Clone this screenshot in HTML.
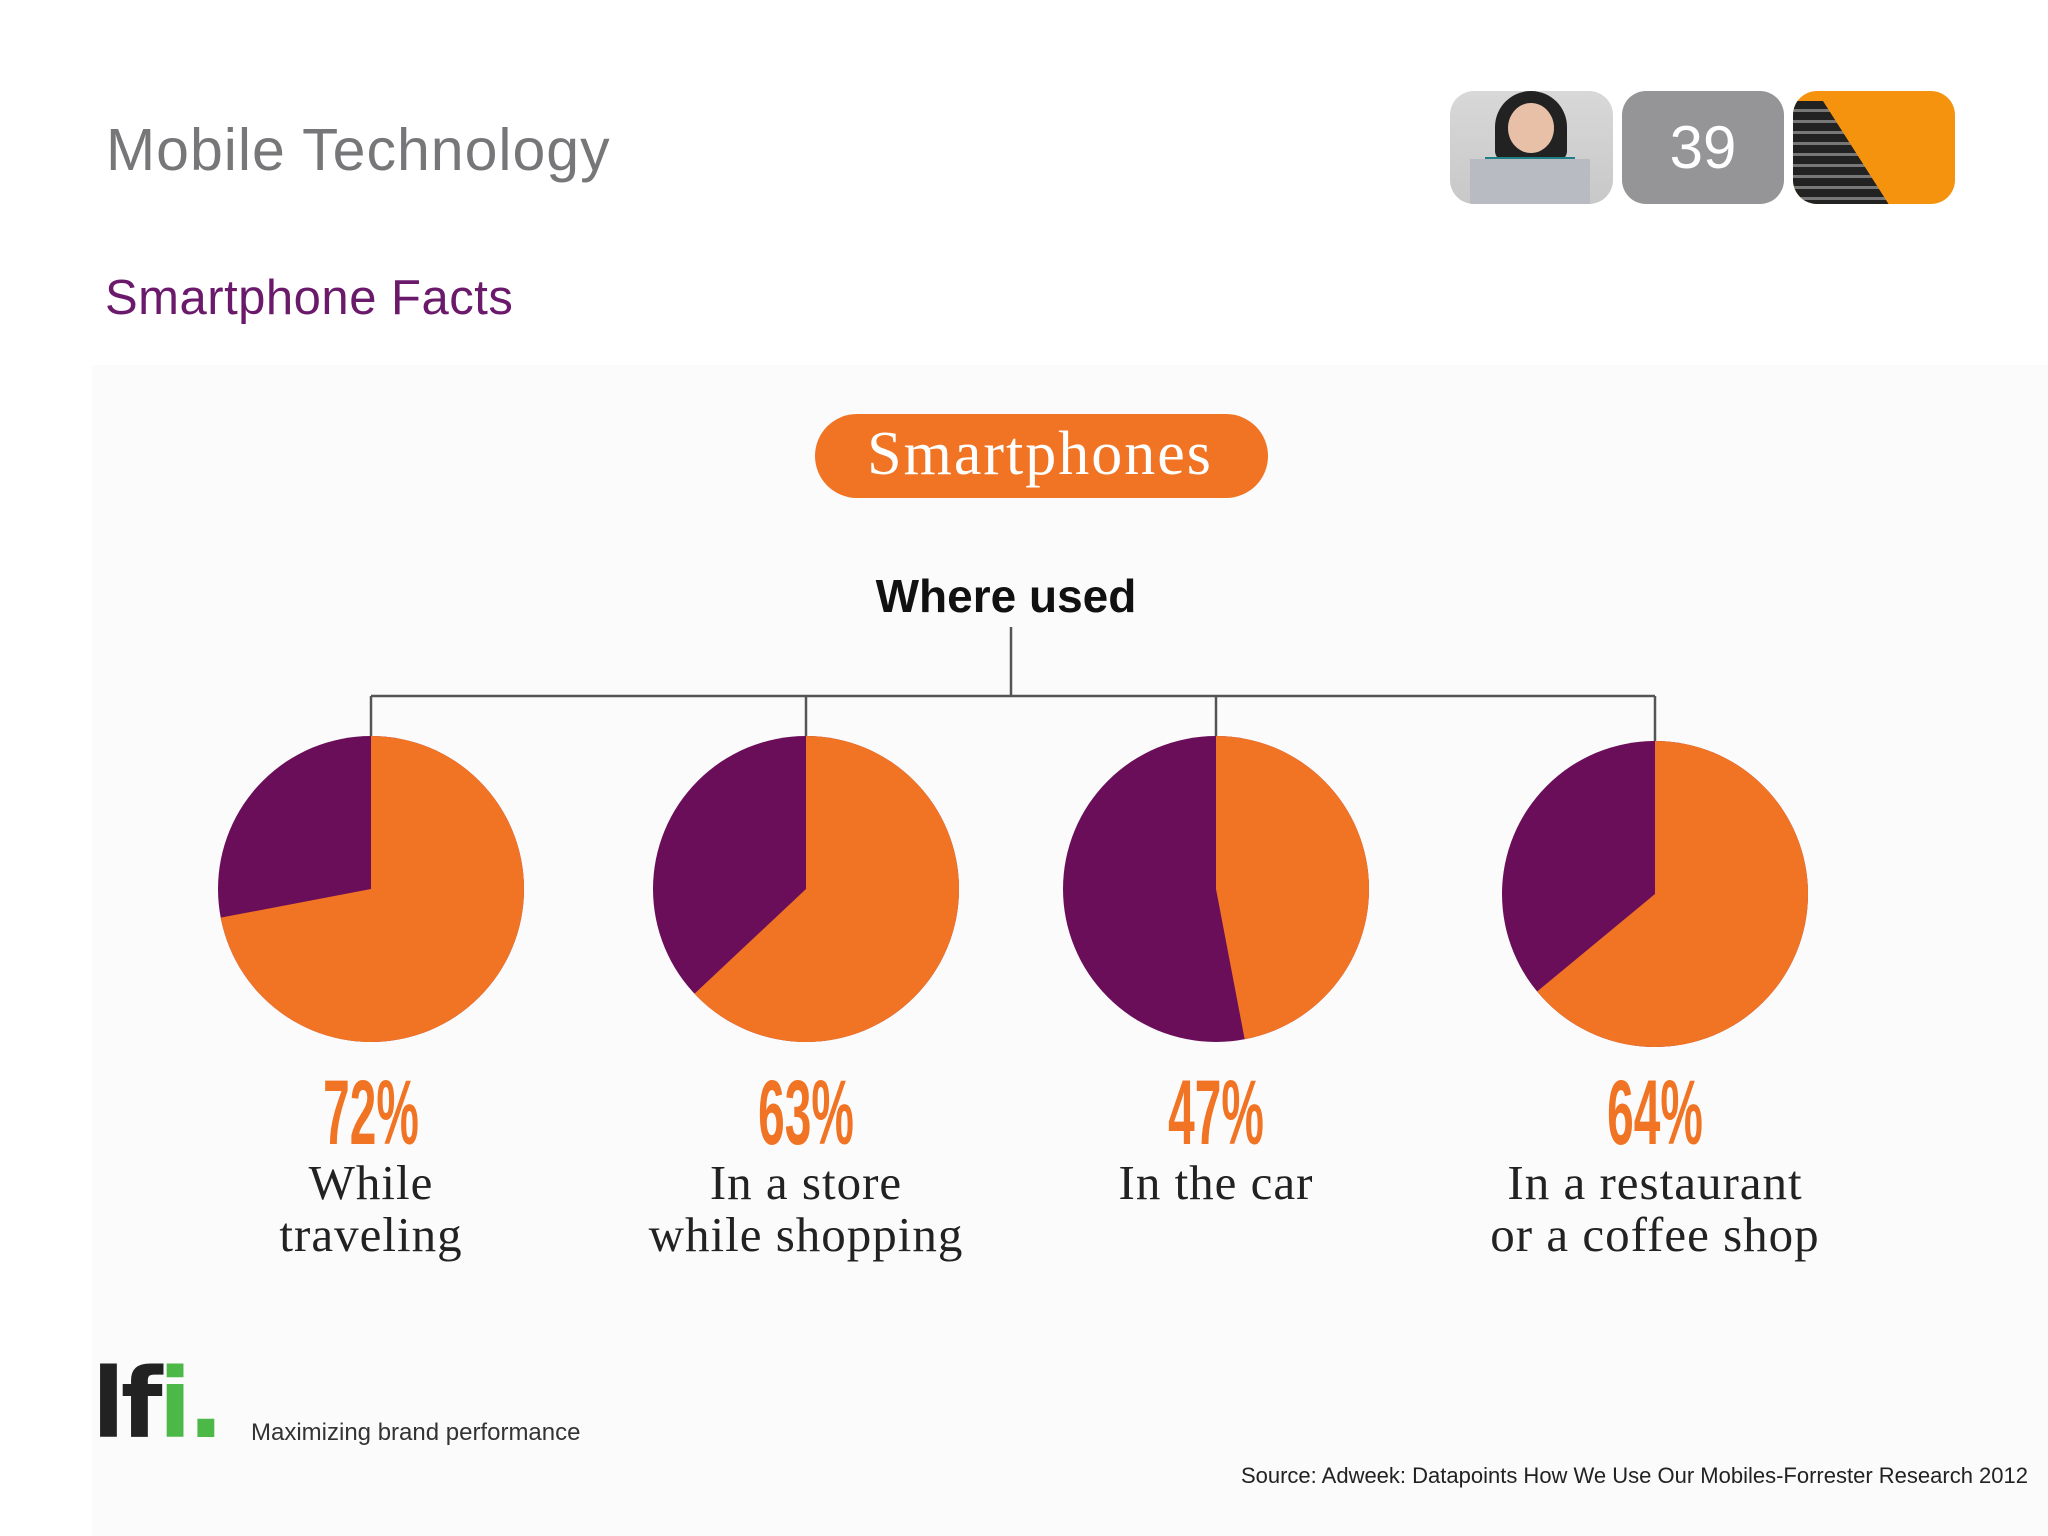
<!DOCTYPE html>
<html><head><meta charset="utf-8"><style>
body{margin:0;width:2048px;height:1536px;background:#fff;position:relative;overflow:hidden;font-family:"Liberation Sans",sans-serif}
.a{position:absolute}
</style></head><body>
<div class="a" style="left:92px;top:365px;width:1956px;height:1171px;background:#fcfbfc"></div>
<div class="a" style="left:106px;top:116px;font-size:59px;color:#77777a;letter-spacing:1px">Mobile Technology</div>
<div class="a" style="left:105px;top:270px;font-size:49px;color:#6b1a6b;letter-spacing:0.5px">Smartphone Facts</div>
<div class="a" style="left:1450px;top:91px;width:163px;height:113px;border-radius:24px;background:linear-gradient(#d8d8d8,#c8c8c8);overflow:hidden">
 <div class="a" style="left:45px;top:0;width:72px;height:70px;border-radius:36px 36px 10px 10px;background:#222"></div>
 <div class="a" style="left:58px;top:12px;width:46px;height:50px;border-radius:50%;background:#e8c0a8"></div>
 <div class="a" style="left:35px;top:66px;width:90px;height:20px;background:#1e7f86"></div>
 <div class="a" style="left:20px;top:68px;width:120px;height:45px;background:#b8bcc2"></div>
</div>
<div class="a" style="left:1622px;top:91px;width:162px;height:113px;border-radius:24px;background:#959598;color:#fff;font-size:60px;line-height:113px;text-align:center">39</div>
<div class="a" style="left:1793px;top:91px;width:162px;height:113px;border-radius:24px;background:#f5930f;overflow:hidden">
 <div class="a" style="left:0;top:10px;width:100px;height:110px;background:repeating-linear-gradient(#222 0 8px,#777 8px 11px);clip-path:polygon(0 0,30% 0,100% 100%,0 100%)"></div>
</div>
<svg class="a" style="left:0;top:0" width="2048" height="1536">
 <rect x="815" y="414" width="453" height="84" rx="42" fill="#f07424"/>
 <text x="1040" y="474" text-anchor="middle" font-family="Liberation Serif,serif" font-size="62" letter-spacing="2" fill="#fff">Smartphones</text>
 <text x="1006" y="612" text-anchor="middle" font-family="Liberation Sans,sans-serif" font-weight="bold" font-size="46" fill="#111">Where used</text>
 <g id="tree" stroke="#555" stroke-width="2.5" fill="none"></g>
 <g id="pies"></g>
</svg>
<div class="a" style="right:20px;top:1463px;font-size:22px;color:#222">Source: Adweek: Datapoints How We Use Our Mobiles-Forrester Research 2012</div>
<div class="a" style="left:92px;top:1348px;font-size:96px;font-weight:bold;letter-spacing:-4px;color:#222;font-family:'DejaVu Sans',sans-serif">lf<span style="color:#4cb848">i.</span></div>
<div class="a" style="left:251px;top:1419px;font-size:24px;color:#333">Maximizing brand performance</div>
<script>
const categories=["While\ntraveling","In a store\nwhile shopping","In the car","In a restaurant\nor a coffee shop"];
const values=[72,63,47,64];
const cxs=[371,806,1216,1655];
const NS="http://www.w3.org/2000/svg";
const pies=document.getElementById('pies'),tree=document.getElementById('tree');
function mk(t,a,p){const e=document.createElementNS(NS,t);for(const k in a)e.setAttribute(k,a[k]);p.appendChild(e);return e;}
const r=153,cy=889;
let l=mk('line',{x1:1011,y1:627,x2:1011,y2:696},tree);


l=mk('line',{x1:cxs[0],y1:696,x2:cxs[3],y2:696},tree);


values.forEach((v,i)=>{
 const cx=cxs[i];
 const pcy=cy+(i===3?5:0);
 let d=mk('line',{x1:cx,y1:696,x2:cx,y2:pcy-r},tree);
 
 
 const c=mk('circle',{cx:cx,cy:pcy,r:r,fill:'#6b0e5a'},pies);
 
 
 const a=v/100*2*Math.PI;
 const x=cx+r*Math.sin(a),y=pcy-r*Math.cos(a);
 const p=mk('path',{d:`M${cx},${pcy}L${cx},${pcy-r}A${r},${r} 0 ${v>50?1:0} 1 ${x},${y}Z`,fill:'#f07424'},pies);
 
 
 const t=mk('text',{x:0,y:0,'text-anchor':'middle','font-family':'Liberation Sans Narrow,Liberation Sans,sans-serif','font-weight':'bold','font-size':92,fill:'#f07424',transform:`translate(${cx},${1144}) scale(0.52,1)`},pies);
 t.textContent=v+'%';
 
 
 categories[i].split('\n').forEach((ln,j)=>{
  const tt=mk('text',{x:cx,y:1199+j*52,'text-anchor':'middle','font-family':'Liberation Serif,serif','font-size':49,'letter-spacing':1,fill:'#222'},pies);
  tt.textContent=ln;
  
  
 });
});
</script>
</body></html>
